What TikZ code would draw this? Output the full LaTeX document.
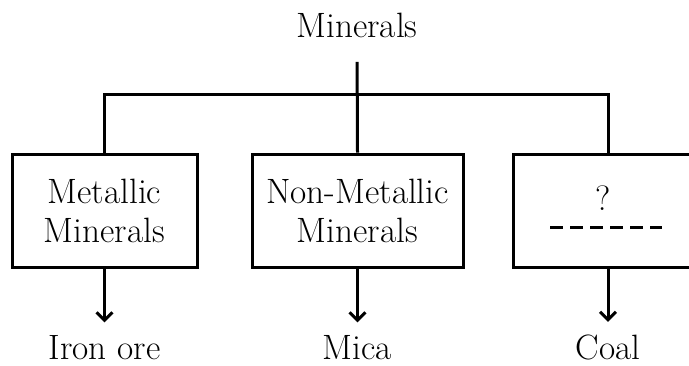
\documentclass[tikz,border=0pt]{standalone}
\usepackage{tikz}
\usetikzlibrary{shapes,arrows.meta}
\newcommand{\classbox}[4] {\node at (#1) (#2) [rectangle, draw, minimum width=#3, minimum height=56.5pt, inner sep=0pt, align=center] {#4};}
\newcommand{\leafnode}[3] {\node at (#1) (#2) [anchor=base, inner sep=1.5pt] {#3};}
\newcommand{\leafarrow}[2] {\draw [-{Straight Barb[length=4pt, width=8pt]}, shorten >=4pt] (#1.south) -- (#2.north);}

\begin{document}
\begin{tikzpicture}[x=0.5pt, y=-0.5pt, line width=1.5pt, font=\fontsize{17.6}{19.5}\selectfont]

\useasboundingbox (0,0) rectangle (689,365);
\clip (0,0) rectangle (689,365);

\leafnode {357,37}{minerals}{Minerals};

\classbox {104.5,210.5}{metallic}{92.5pt}{Metallic\\Minerals};
\classbox {357.5,210.5}{nonmetallic}{105.5pt}{Non-Metallic\\Minerals};
\classbox {608,210.5}{unknown}{95pt}{};

\node at (603,210) (qmark) [anchor=base] {?};
\coordinate (dashl) at (550,227);
\coordinate (dashr) at (662,227);
\draw [dash pattern=on 6.5pt off 3.5pt] (dashl) -- (dashr);

\coordinate (bus) at (357,94);
\draw [shorten <=10pt] (minerals.south) -- (nonmetallic.north);
\draw (metallic.north) |- (bus) -| (unknown.north);

\leafnode {104.5,359}{ironore}{Iron ore};
\leafnode {357.5,359}{mica}{Mica};
\leafnode {608,359}{coal}{Coal};

\leafarrow{metallic}{ironore};
\leafarrow{nonmetallic}{mica};
\leafarrow{unknown}{coal};

\end{tikzpicture}
\end{document}
